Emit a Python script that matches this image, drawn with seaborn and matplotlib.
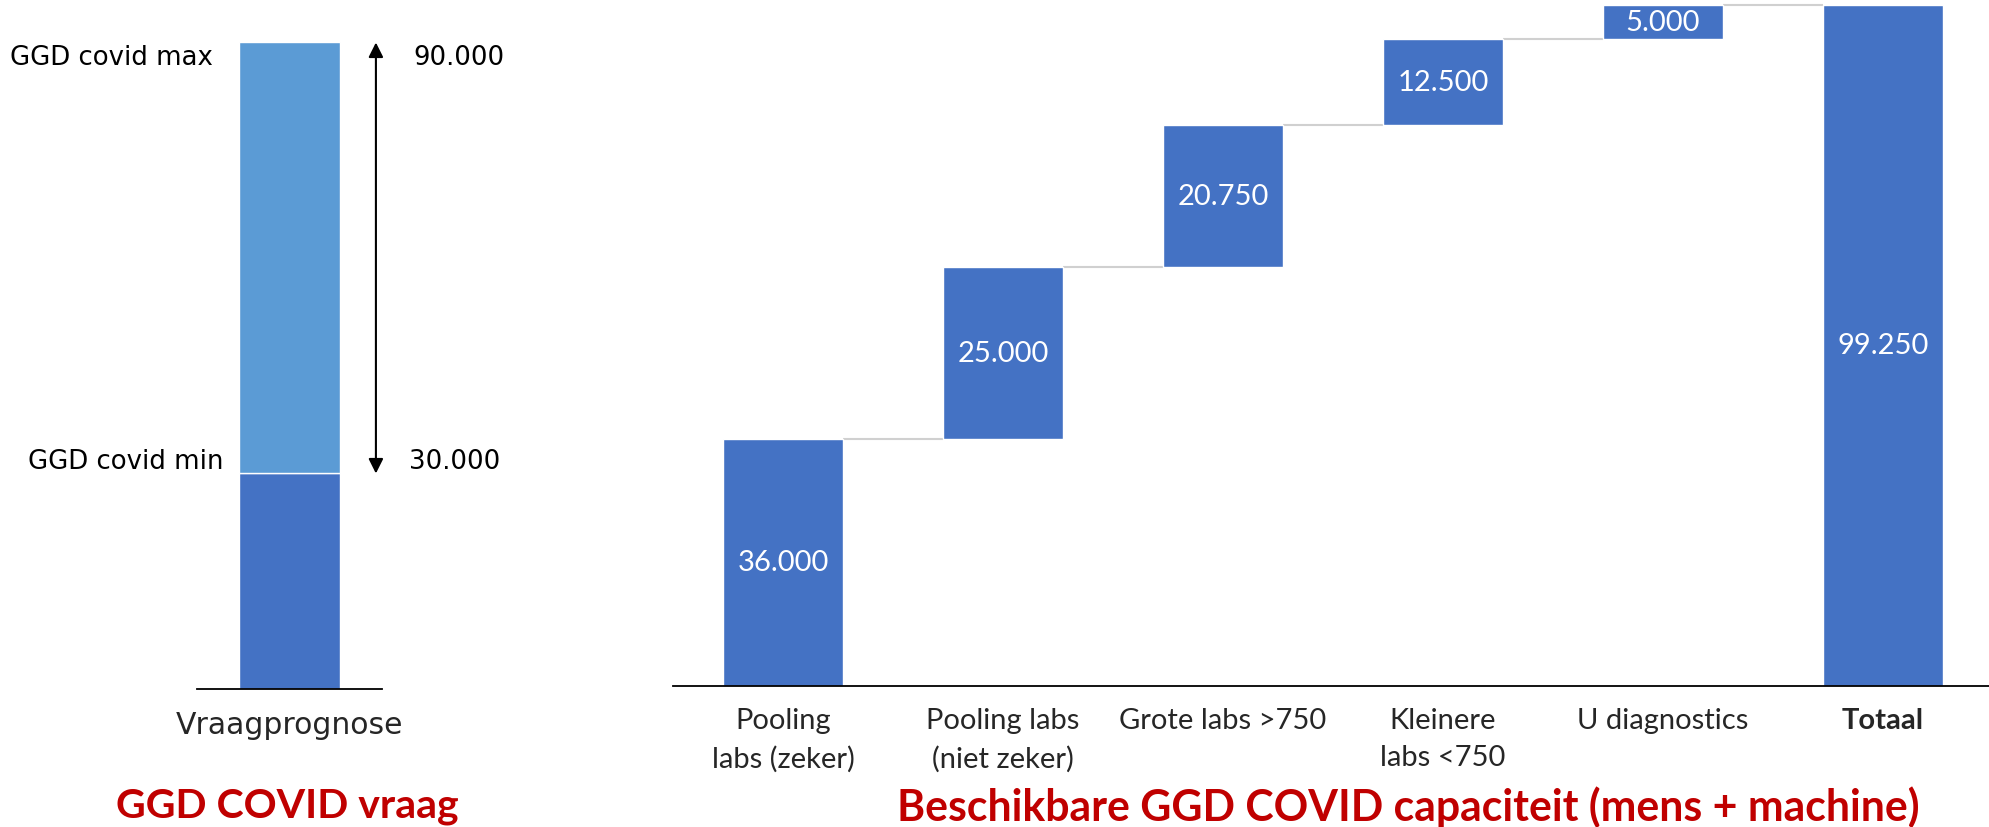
import numpy as np
import pandas as pd
import matplotlib
matplotlib.use("Agg")
import matplotlib.pyplot as plt
import seaborn as sns

# ---------------- data ----------------
demand_category = ["Vraagprognose"]
demand_labels = ["GGD covid min", "GGD covid max"]
demand_values = [30000, 90000]

capacity_categories = ["Pooling\nlabs (zeker)", "Pooling labs\n(niet zeker)", "Grote labs >750",
                       "Kleinere\nlabs <750", "U diagnostics", "Totaal"]
capacity_increments = [36000, 25000, 20750, 12500, 5000]
capacity_total = 99250

titles = ["GGD COVID vraag", "Beschikbare GGD COVID capaciteit (mens + machine)"]

# ---------------- style ----------------
DARK = "#4472C4"
LIGHT = "#5B9BD5"
RED = "#C00000"
CONN = "#D0D0D0"
BW = 0.545


def fmt(v):
    return f"{v:,}".replace(",", ".")


sns.set_style("white")
plt.rcParams["font.family"] = ["Lato", "DejaVu Sans"]

W, H = 1990, 828
fig = plt.figure(figsize=(W / 100, H / 100), dpi=100)
fig.patch.set_facecolor("white")


def ax_rect(x0, y0, x1, y1):
    return [x0 / W, 1 - y1 / H, (x1 - x0) / W, (y1 - y0) / H]


ax_l = fig.add_axes(ax_rect(197, 0, 382, 690))
ax_r = fig.add_axes(ax_rect(673, 0, 1990, 687))

# ---------------- left: demand ----------------
sns.barplot(x=demand_category, y=[demand_values[0]], color=DARK, saturation=1,
            width=BW, errorbar=None, ax=ax_l)
sns.barplot(x=demand_category, y=[demand_values[1] - demand_values[0]], color=LIGHT,
            saturation=1, width=BW, errorbar=None, ax=ax_l, edgecolor="white", linewidth=1)
ax_l.patches[1].set_y(demand_values[0])
ax_l.set_xlim(-0.5, 0.5)
ax_l.set_ylim(0, 96055)
ax_l.set_yticks([])
ax_l.set_xlabel("")
ax_l.set_ylabel("")
ax_l.tick_params(axis="x", length=0, pad=15, labelsize=21.5)
for t in ax_l.get_xticklabels():
    t.set_fontfamily(["DejaVu Sans"])
sns.despine(ax=ax_l, left=True)
ax_l.spines["bottom"].set_color("black")
ax_l.spines["bottom"].set_linewidth(1.3)

bar_left = -BW / 2
bar_right = BW / 2
left_font = dict(fontsize=18.7, family=["DejaVu Sans"], color="black", va="center")
ax_l.annotate(demand_labels[1], xy=(bar_left, demand_values[1]), xytext=(-19, -10.5),
              textcoords="offset points", ha="right", annotation_clip=False, **left_font)
ax_l.annotate(demand_labels[0], xy=(bar_left, demand_values[0]), xytext=(-11.5, 9),
              textcoords="offset points", ha="right", annotation_clip=False, **left_font)
ax_l.annotate(fmt(demand_values[1]), xy=(bar_right, demand_values[1]), xytext=(53, -10.5),
              textcoords="offset points", ha="left", annotation_clip=False, **left_font)
ax_l.annotate(fmt(demand_values[0]), xy=(bar_right, demand_values[0]), xytext=(50, 9),
              textcoords="offset points", ha="left", annotation_clip=False, **left_font)
arrow_x = bar_right + 36 / 185
ax_l.annotate("", xy=(arrow_x, demand_values[1]), xytext=(arrow_x, demand_values[0]),
              annotation_clip=False,
              arrowprops=dict(arrowstyle="<|-|>", color="black", lw=1.5,
                              mutation_scale=22, shrinkA=0, shrinkB=0))

# ---------------- right: capacity waterfall ----------------
cum = np.cumsum(capacity_increments)
bottoms = [0] + list(cum[:-1]) + [0]
heights = list(capacity_increments) + [capacity_total]
df = pd.DataFrame({"cat": capacity_categories, "h": heights, "b": bottoms})

sns.barplot(data=df, x="cat", y="h", color=DARK, saturation=1, width=BW,
            errorbar=None, ax=ax_r)
for p, b in zip(ax_r.patches, df["b"]):
    p.set_y(b)

for i, (h, b) in enumerate(zip(df["h"], df["b"])):
    ax_r.text(i, b + h / 2, fmt(h), ha="center", va="center", color="white", fontsize=21)

for i, c in enumerate(cum):
    ax_r.plot([i + BW / 2, i + 1 - BW / 2], [c, c], color=CONN, lw=1.5, zorder=0.5,
              solid_capstyle="butt")

ax_r.set_xlim(-0.5, 5.486)
ax_r.set_ylim(0, capacity_total * 687 / 681)
ax_r.set_yticks([])
ax_r.set_xlabel("")
ax_r.set_ylabel("")
ax_r.tick_params(axis="x", length=0, pad=15, labelsize=21)
for t in ax_r.get_xticklabels():
    t.set_linespacing(1.55)
ax_r.get_xticklabels()[-1].set_fontweight("bold")
sns.despine(ax=ax_r, left=True)
ax_r.spines["bottom"].set_color("black")
ax_r.spines["bottom"].set_linewidth(1.3)

# ---------------- titles ----------------
fig.text(287 / W, 1 - 807 / H, titles[0], ha="center", va="center", color=RED,
         fontweight="bold", fontsize=29.5)
fig.text(1408 / W, 1 - 807 / H, titles[1], ha="center", va="center", color=RED,
         fontweight="bold", fontsize=30.8)

fig.savefig("out.png", dpi=100, facecolor="white")
